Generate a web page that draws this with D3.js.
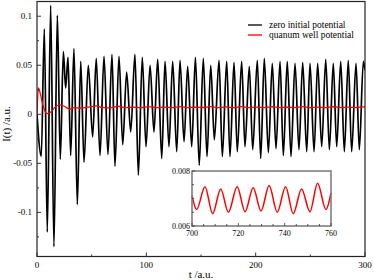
<!DOCTYPE html>
<html>
<head>
<meta charset="utf-8">
<script src="https://cdn.jsdelivr.net/npm/d3@7"></script>
<style>
body { margin: 0; background: #fff; }
text { font-family: "Liberation Serif", "DejaVu Serif", serif; }
</style>
</head>
<body>
<div id="chart"></div>
<script>
// zero initial potential: peaks and troughs [t, I]
var zero_potential = [
    [0, 0], [3.9, -0.043], [6.7, 0.087], [9.4, -0.120], [12.5, 0.111], [15.5, -0.135],
    [18.6, 0.101], [21.3, -0.046], [24.1, 0.064], [26.2, 0.027], [28.4, 0.058], [30.8, -0.042],
    [33.8, 0.067], [36.9, -0.092], [40.0, 0.054], [43.0, -0.049], [46.9, 0.050], [50.9, -0.023],
    [54.2, 0.057], [57.6, -0.042], [61.3, 0.059], [64.9, -0.041], [68.6, 0.061], [71.3, -0.053],
    [75.0, 0.059], [78.4, -0.031], [82.0, 0.043], [85.7, -0.018], [89.6, 0.061], [92.7, -0.062],
    [96.3, 0.058], [99.7, -0.033], [103.4, 0.050], [107.0, -0.018], [110.4, 0.056], [114.1, -0.045],
    [117.1, 0.054], [120.7, -0.033], [124.1, 0.054], [127.8, -0.038], [130.8, 0.055], [134.5, -0.028],
    [137.8, 0.049], [141.5, -0.033], [144.9, 0.058], [148.4, -0.052], [152.1, 0.057], [155.5, -0.043],
    [158.9, 0.050], [162.2, -0.026], [166.5, 0.055], [169.5, -0.043], [173.5, 0.054], [176.5, -0.043],
    [180.2, 0.053], [183.2, -0.038], [187.2, 0.054], [190.2, -0.033], [194.2, 0.049], [197.3, -0.036],
    [201.5, 0.055], [204.6, -0.045], [207.9, 0.057], [211.6, -0.039], [215.2, 0.052], [218.6, -0.035],
    [222.3, 0.054], [225.3, -0.042], [228.9, 0.054], [232.3, -0.043], [236.0, 0.052], [239.6, -0.036],
    [243.0, 0.053], [246.7, -0.038], [249.7, 0.052], [253.4, -0.038], [256.7, 0.052], [260.4, -0.033],
    [264.1, 0.056], [267.4, -0.036], [271.0, 0.052], [274.1, -0.033], [277.8, 0.054], [281.1, -0.038],
    [284.7, 0.055], [287.8, -0.038], [291.8, 0.052], [294.8, -0.036], [298.5, 0.054], [300, 0.045]
];

// quantum well potential, main panel
var well_potential = [
    [0, 0], [1.3, 0.027], [3, 0.021], [5.5, 0.009], [9, 0.0006], [12.5, 0.002], [16, 0.0068],
    [20.5, 0.0095], [25, 0.0082], [30, 0.0052], [34, 0.0068], [40, 0.0064], [47, 0.0072],
    [54.5, 0.0085], [60, 0.0068], [67, 0.0066], [74, 0.0082], [80, 0.0068], [88, 0.0072],
    [95, 0.0068], [102, 0.0078], [110, 0.0068], [117, 0.0074], [124, 0.0068], [131, 0.0078],
    [138, 0.0068], [145, 0.0072], [152, 0.0069], [159, 0.0078], [166, 0.0067], [173, 0.0075],
    [180, 0.0068], [187, 0.0079], [194, 0.0068], [201, 0.0073], [208, 0.0068], [215, 0.0077],
    [222, 0.0068], [229, 0.0072], [236, 0.0068], [243, 0.0078], [250, 0.0068], [257, 0.0073],
    [264, 0.0068], [271, 0.0077], [278, 0.0068], [285, 0.0074], [292, 0.0068], [299, 0.0076], [300, 0.0074]
];

// quantum well potential, inset 700..760
var well_inset = [
    [700, 0.0071], [702.0, 0.0066], [705.6, 0.00743], [708.9, 0.00645], [712.4, 0.00735],
    [715.7, 0.0065], [719.5, 0.00743], [722.9, 0.00652], [726.4, 0.00739], [729.8, 0.00655],
    [733.3, 0.00747], [736.8, 0.0065], [740.4, 0.00743], [743.7, 0.00645], [747.3, 0.00735],
    [750.9, 0.00652], [754.2, 0.00755], [757.8, 0.0066], [760, 0.0072]
];

var x_ticks = [0, 100, 200, 300];
var x_minor = [50, 150, 250];
var y_ticks = [-0.1, -0.05, 0, 0.05, 0.1];
var y_minor = [-0.125, -0.075, -0.025, 0.025, 0.075];
var y_tick_labels = ['-0.1', '-0.05', '0', '0.05', '0.1'];
var inset_x_ticks = [700, 720, 740, 760];
var inset_x_minor = [705, 710, 715, 725, 730, 735, 745, 750, 755];
var inset_y_ticks = [0.006, 0.008];
var inset_y_minor = [0.0065, 0.007, 0.0075];

var legend_items = [
    { label : 'zero initial potential', color : '#000000' },
    { label : 'quanum well potential', color : '#ff0000' }
];

var width = 374, height = 280;
var svg = d3.select('#chart').append('svg').attr('width', width).attr('height', height);

var x = d3.scaleLinear().domain([0, 300]).range([37, 365]);
var y = d3.scaleLinear().domain([-0.145, 0.115]).range([256.5, 1.5]);

function drawTicks(g, scale, values, len, orient) {
    values.forEach(function(v) {
        var p = scale(v);
        if (orient == 'bottom') {
            g.append('line').attr('x1', p).attr('x2', p).attr('y1', 0).attr('y2', -len);
        } else {
            g.append('line').attr('y1', p).attr('y2', p).attr('x1', 0).attr('x2', len);
        }
    });
}

// main panel
var line_main = d3.line().x(function(d) { return x(d[0]); }).y(function(d) { return y(d[1]); }).curve(d3.curveMonotoneX);

var clip = svg.append('defs').append('clipPath').attr('id', 'main_clip');
clip.append('rect').attr('x', x(0)).attr('y', y(0.115)).attr('width', x(300) - x(0)).attr('height', y(-0.145) - y(0.115));

var plot = svg.append('g').attr('clip-path', 'url(#main_clip)');
plot.append('path').datum(zero_potential).attr('d', line_main).attr('fill', 'none').attr('stroke', '#000').attr('stroke-width', 1.7);
plot.append('path').datum(well_potential).attr('d', line_main).attr('fill', 'none').attr('stroke', '#ff0000').attr('stroke-width', 1.3);

svg.append('rect').attr('x', x(0)).attr('y', y(0.115)).attr('width', x(300) - x(0)).attr('height', y(-0.145) - y(0.115))
    .attr('fill', 'none').attr('stroke', '#222').attr('stroke-width', 1.2);

var xt = svg.append('g').attr('transform', 'translate(0,' + y(-0.145) + ')').attr('stroke', '#333').attr('stroke-width', 1);
drawTicks(xt, x, x_ticks, 4, 'bottom');
drawTicks(xt, x, x_minor, 2, 'bottom');
var yt = svg.append('g').attr('transform', 'translate(' + x(0) + ',0)').attr('stroke', '#333').attr('stroke-width', 1);
drawTicks(yt, y, y_ticks, 4, 'left');
drawTicks(yt, y, y_minor, 2, 'left');

svg.selectAll('.xlab').data(x_ticks).enter().append('text').attr('x', function(d) { return x(d); }).attr('y', 268)
    .attr('text-anchor', 'middle').attr('style', 'font-size:9px; fill:#000').text(function(d) { return d; });
svg.selectAll('.ylab').data(y_ticks).enter().append('text').attr('x', 32).attr('y', function(d) { return y(d) + 3; })
    .attr('text-anchor', 'end').attr('style', 'font-size:9px; fill:#000').text(function(d, i) { return y_tick_labels[i]; });

svg.append('text').attr('x', 201).attr('y', 278).attr('text-anchor', 'middle').attr('style', 'font-size:11px; fill:#000').text('t /a.u.');
svg.append('text').attr('transform', 'translate(10,124) rotate(-90)').attr('text-anchor', 'middle')
    .attr('style', 'font-size:11px; fill:#000').text('I(t) /a.u.');

// legend
legend_items.forEach(function(item, i) {
    var ly = 25 + i * 10;
    svg.append('line').attr('x1', 248).attr('x2', 262).attr('y1', ly).attr('y2', ly).attr('stroke', item.color).attr('stroke-width', 1.3);
    svg.append('text').attr('x', 269).attr('y', ly + 3).attr('style', 'font-size:9.5px; fill:#000').text(item.label);
});

// inset
var ix = d3.scaleLinear().domain([700, 760]).range([192, 331]);
var iy = d3.scaleLinear().domain([0.006, 0.008]).range([226, 171]);
var line_inset = d3.line().x(function(d) { return ix(d[0]); }).y(function(d) { return iy(d[1]); }).curve(d3.curveMonotoneX);

svg.append('rect').attr('x', ix(700)).attr('y', iy(0.008)).attr('width', ix(760) - ix(700)).attr('height', iy(0.006) - iy(0.008))
    .attr('fill', '#fff').attr('stroke', 'none');
svg.append('path').datum(well_inset).attr('d', line_inset).attr('fill', 'none').attr('stroke', '#ff0000').attr('stroke-width', 1.5);
svg.append('rect').attr('x', ix(700)).attr('y', iy(0.008)).attr('width', ix(760) - ix(700)).attr('height', iy(0.006) - iy(0.008))
    .attr('fill', 'none').attr('stroke', '#777').attr('stroke-width', 1.5);

var ixt = svg.append('g').attr('transform', 'translate(0,' + iy(0.006) + ')').attr('stroke', '#333').attr('stroke-width', 0.8);
drawTicks(ixt, ix, inset_x_ticks, 3, 'bottom');
drawTicks(ixt, ix, inset_x_minor, 2, 'bottom');
var iyt = svg.append('g').attr('transform', 'translate(' + ix(700) + ',0)').attr('stroke', '#333').attr('stroke-width', 0.8);
drawTicks(iyt, iy, inset_y_ticks, 3, 'left');
drawTicks(iyt, iy, inset_y_minor, 2, 'left');

svg.selectAll('.ixlab').data(inset_x_ticks).enter().append('text').attr('x', function(d) { return ix(d); }).attr('y', 236)
    .attr('text-anchor', 'middle').attr('style', 'font-size:8px; fill:#000').text(function(d) { return d; });
svg.selectAll('.iylab').data(inset_y_ticks).enter().append('text').attr('x', 190).attr('y', function(d) { return iy(d) + 3; })
    .attr('text-anchor', 'end').attr('style', 'font-size:8px; fill:#000').text(function(d) { return d3.format('.3f')(d); });
</script>
</body>
</html>
